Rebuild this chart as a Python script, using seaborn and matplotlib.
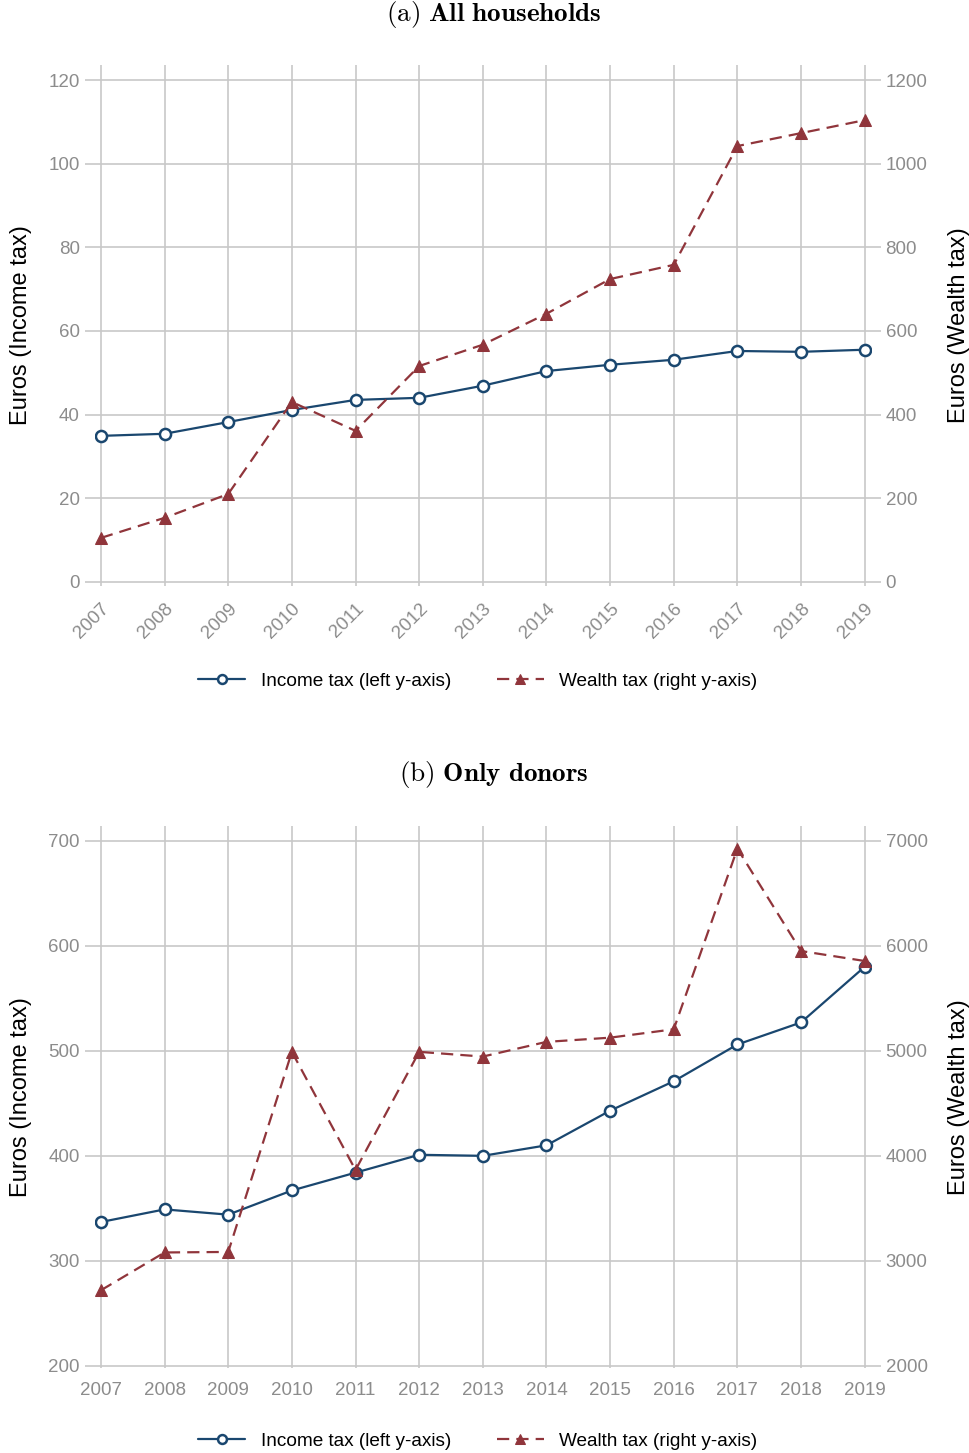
import numpy as np
import pandas as pd
import seaborn as sns
import matplotlib.pyplot as plt

# Data
years = list(range(2007, 2020))

income_all = [34.9, 35.4, 38.2, 41.1, 43.5, 44.0, 46.9, 50.4, 51.9, 53.1, 55.2, 55.0, 55.5]
wealth_all = [105, 153, 210, 430, 361, 516, 567, 641, 724, 758, 1042, 1073, 1104]

income_donors = [337, 349, 344, 367, 384, 401, 400, 410, 443, 471, 506, 527, 580]
wealth_donors = [2720, 3080, 3085, 4990, 3865, 4990, 4945, 5085, 5125, 5205, 6925, 5950, 5855]

income_ticks_a = [0, 20, 40, 60, 80, 100, 120]
wealth_ticks_a = [0, 200, 400, 600, 800, 1000, 1200]
income_ticks_b = [200, 300, 400, 500, 600, 700]
wealth_ticks_b = [2000, 3000, 4000, 5000, 6000, 7000]

navy = '#1a476f'
maroon = '#90353b'
grid_c = '#c8c8c8'
tick_c = '#8c8c8c'

sns.set_style('white')
plt.rcParams['font.family'] = ['Liberation Sans', 'DejaVu Sans']
plt.rcParams['mathtext.fontset'] = 'cm'
plt.rcParams['text.color'] = 'black'

fig = plt.figure(figsize=(9.69, 14.53), dpi=100)


def panel(rect, inc, wea, ylim, ticks_l, ticks_r, title, title_y, leg_y, rotate):
    ax = fig.add_axes(rect)
    df = pd.DataFrame({'year': years, 'income': inc, 'wealth': wea})
    sns.lineplot(data=df, x='year', y='income', ax=ax, color=navy, lw=1.6,
                 marker='o', ms=8, mfc='white', mec=navy, mew=1.8,
                 label='Income tax (left y-axis)', legend=False, zorder=3)
    ax2 = ax.twinx()
    sns.lineplot(data=df, x='year', y='wealth', ax=ax2, color=maroon, lw=1.6,
                 marker='^', ms=9, mfc=maroon, mec=maroon,
                 label='Wealth tax (right y-axis)', legend=False, zorder=3)
    ax2.lines[-1].set_dashes([5.5, 3.2])

    ax.set_xlim(2006.9, 2019.1)
    ax.set_ylim(*ylim)
    ax2.set_ylim(ylim[0] * 10, ylim[1] * 10)
    ax.set_xticks(years)
    ax.set_yticks(ticks_l)
    ax2.set_yticks(ticks_r)
    ax.grid(True, color=grid_c, lw=1.2)
    ax.set_axisbelow(True)
    for a in (ax, ax2):
        for s in a.spines.values():
            s.set_visible(False)
        a.tick_params(colors=grid_c, labelcolor=tick_c, length=7, width=1.2, labelsize=13.5)
    ax.tick_params(axis='x', pad=3)
    if rotate:
        plt.setp(ax.get_xticklabels(), rotation=45, ha='right', rotation_mode='anchor')
    ax.set_xlabel('')
    ax.set_ylabel('Euros (Income tax)', fontsize=17, va='center', color='black')
    ax2.set_ylabel('Euros (Wealth tax)', fontsize=17, rotation=90, va='center', color='black')
    ax.yaxis.set_label_coords(-0.095, 0.5)
    ax2.yaxis.set_label_coords(1.113, 0.5)

    fig.text(0.51, title_y, title, ha='center', va='center', fontsize=19.5, color='black')

    h1, l1 = ax.get_legend_handles_labels()
    h2, l2 = ax2.get_legend_handles_labels()
    fig.legend(h1 + h2, l1 + l2, loc='center', bbox_to_anchor=(0.493, leg_y), ncol=2,
               frameon=False, fontsize=13.7, handlelength=2.5, columnspacing=2.4,
               handletextpad=0.8, markerscale=0.8, labelcolor='black')
    return ax, ax2


panel([0.0976, 0.5967, 0.8013, 0.3586], income_all, wealth_all, (-1, 123.6),
      income_ticks_a, wealth_ticks_a,
      r'$\mathrm{(a)}\ \mathbf{All\ households}$', 1 - 14 / 1453, 1 - 681 / 1453, True)

panel([0.0976, 0.0585, 0.8013, 0.373], income_donors, wealth_donors, (198, 714),
      income_ticks_b, wealth_ticks_b,
      r'$\mathrm{(b)}\ \mathbf{Only\ donors}$', 1 - 774 / 1453, 1 - 1441 / 1453, False)

fig.savefig('out.png', dpi=100)
